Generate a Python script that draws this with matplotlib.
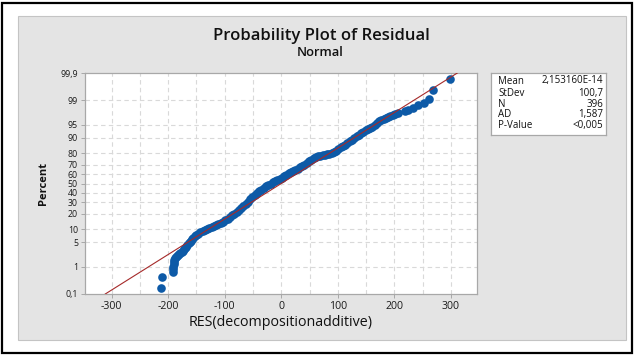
import numpy as np
import matplotlib
matplotlib.use("Agg")
import matplotlib.pyplot as plt
from matplotlib.patches import Rectangle
from statistics import NormalDist

# sorted residuals and their plotted percent
residual = [-213, -210, -192, -191.5, -191, -190.5, -190, -189, -188, -186.5,
            -185, -183, -181, -179, -176, -174, -172, -170, -168, -166,
            -164, -162, -160, -158, -156, -153, -150, -147, -143, -139,
            -135, -131, -127, -123, -119, -115, -111, -107, -103, -99,
            -95, -91, -87, -83, -79, -75, -71, -67, -63, -59,
            -55, -51, -47, -43, -39, -35, -31, -27, -23, -19,
            -15, -11, -7, -3, 1, 5, 9, 13, 17, 21,
            25, 29, 33, 37, 41, 45, 49, 53, 57, 61,
            65, 69, 73, 77, 81, 85, 89, 93, 97, 101,
            105, 109, 113, 117, 121, 125, 129, 133, 137, 141,
            145, 149, 153, 157, 161, 165, 169, 173, 177, 181,
            185, 189, 193, 197, 201, 206,
            218, 224, 233, 242, 252, 262, 268, 298]
percent = [0.18, 0.43, 0.68, 0.85, 1.0, 1.2, 1.4, 1.6, 1.8, 2.0,
           2.15, 2.3, 2.45, 2.6, 2.8, 3.0, 3.3, 3.6, 3.9, 4.3,
           4.7, 5.1, 5.5, 6.0, 6.5, 7.0, 7.5, 8.1, 8.6, 9.1,
           9.7, 10.3, 10.9, 11.4, 11.9, 12.4, 13.0, 13.6, 14.3, 15.2,
           16.2, 17.4, 18.7, 20.0, 21.5, 23.0, 24.5, 26.3, 28.3, 30.5,
           32.8, 35.0, 37.3, 39.5, 41.5, 43.3, 45.0, 46.7, 48.2, 49.7,
           51.2, 52.6, 54.0, 55.3, 56.6, 58.0, 59.6, 61.2, 62.6, 63.8,
           65.0, 66.2, 67.4, 68.8, 70.2, 71.8, 73.2, 74.5, 75.8, 76.9,
           77.6, 78.2, 78.6, 79.0, 79.3, 79.7, 80.2, 81.0, 82.0, 83.2,
           84.3, 85.2, 86.0, 87.0, 88.0, 89.0, 90.0, 90.7, 91.3, 92.0,
           92.6, 93.1, 93.5, 93.9, 94.4, 95.0, 95.5, 96.0, 96.3, 96.5,
           96.7, 96.9, 97.0, 97.2, 97.4, 97.55,
           97.8, 98.06, 98.31, 98.56, 98.81, 99.07, 99.57, 99.82]

y_ticks = [0.1, 1, 5, 10, 20, 30, 40, 50, 60, 70, 80, 90, 95, 99, 99.9]
y_labels = ["0,1", "1", "5", "10", "20", "30", "40", "50", "60", "70",
            "80", "90", "95", "99", "99,9"]
x_ticks = [-300, -200, -100, 0, 100, 200, 300]

stat_names = ["Mean", "StDev", "N", "AD", "P-Value"]
stat_values = ["2,153160E-14", "100,7", "396", "1,587", "<0,005"]
mean, stdev = 0.0, 100.7

plt.rcParams['font.family'] = ['Open Sans', 'DejaVu Sans']

nd = NormalDist()
_ppf = np.vectorize(lambda v: nd.inv_cdf(v / 100.0), otypes=[float])
_cdf = np.vectorize(lambda v: nd.cdf(v) * 100.0, otypes=[float])


def fwd(p):
    p = np.clip(np.asarray(p, dtype=float), 1e-4, 100 - 1e-4)
    return _ppf(p)


def inv(z):
    return _cdf(np.asarray(z, dtype=float))


W, H = 636, 356
fig = plt.figure(figsize=(W / 100, H / 100), dpi=100)
fig.patch.set_facecolor("white")

# outer black frame and grey panel
fig.patches.append(Rectangle((2 / W, 3 / H), 630 / W, 350 / H, transform=fig.transFigure,
                             facecolor="white", edgecolor="black", lw=1.6, zorder=-2))
fig.patches.append(Rectangle((18 / W, (H - 340) / H), 608 / W, 324 / H, transform=fig.transFigure,
                             facecolor="#e4e4e4", edgecolor="#c4c4c4", lw=0.8, zorder=-1))

ax = fig.add_axes([85 / W, (H - 294) / H, 392 / W, 221 / H])
ax.set_yscale('function', functions=(fwd, inv))
ax.set_facecolor("white")

# fitted normal line
lo = NormalDist(mean, stdev).inv_cdf(0.001)
hi = NormalDist(mean, stdev).inv_cdf(0.999)
ax.plot([lo, hi], [0.1, 99.9], color="#a52a2a", lw=0.8, zorder=4)

ax.plot(residual, percent, "o", color="#0d5aa7", ms=6.2, mew=0, zorder=3)

ax.set_xlim(-347, 346)
ax.set_ylim(0.1, 99.9)
ax.set_yticks(y_ticks)
ax.set_yticklabels(y_labels)
ax.set_xticks(x_ticks)
ax.set_xticklabels([str(v) for v in x_ticks])
ax.minorticks_off()

for v in range(-300, 301, 50):
    ax.axvline(v, color="#d9d9d9", lw=0.8, ls=(0, (4, 3)), zorder=1)
for v in y_ticks[1:-1]:
    ax.axhline(v, color="#d9d9d9", lw=0.8, ls=(0, (4, 3)), zorder=1)

for s in ax.spines.values():
    s.set_color("#a8a8a8")
    s.set_linewidth(0.9)
ax.tick_params(length=3, width=0.7, color="#a8a8a8", labelsize=7.6,
               labelcolor="#1a1a1a", pad=2)
ax.tick_params(axis="y", labelsize=6.3)

ax.set_xlabel("RES(decompositionadditive)", fontsize=10.3, color="#111111", labelpad=2)
ax.set_ylabel("Percent", fontsize=8, fontweight="bold", color="#111111", labelpad=8)

fig.text(321 / W, 1 - 36 / H, "Probability Plot of Residual", ha="center", va="center",
         fontsize=12, fontweight="semibold", color="#111111")
fig.text(320 / W, 1 - 52.5 / H, "Normal", ha="center", va="center",
         fontsize=9.3, fontweight="semibold", color="#111111")

# stats box
bx = fig.add_axes([491 / W, (H - 135) / H, 115 / W, 62 / H])
bx.set_xticks([])
bx.set_yticks([])
bx.set_facecolor("white")
for s in bx.spines.values():
    s.set_color("#a8a8a8")
    s.set_linewidth(0.9)
rows_y = [81, 93.3, 104, 114.5, 125.5]
for name, val, yy in zip(stat_names, stat_values, rows_y):
    fig.text(498 / W, 1 - yy / H, name, ha="left", va="center", fontsize=7, color="#111111")
    fig.text(603 / W, 1 - yy / H, val, ha="right", va="center", fontsize=7, color="#111111")

fig.savefig("out.png", dpi=100)
